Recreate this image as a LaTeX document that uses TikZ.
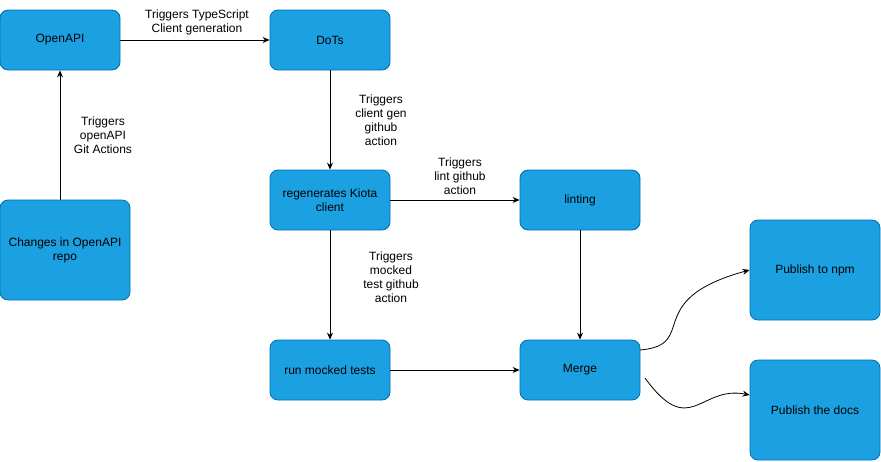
\documentclass[tikz,border=0pt]{standalone}
\usepackage{fontspec}
\setmainfont{Liberation Sans}
\usetikzlibrary{arrows.meta}
\definecolor{boxfill}{HTML}{1BA1E2}
\definecolor{boxline}{HTML}{006EAF}
\begin{document}
\begin{tikzpicture}[x=1pt,y=-1pt,
  box/.style={draw=boxline,fill=boxfill,rounded corners=8pt,line width=0.8pt,align=center,font=\fontsize{12}{14}\selectfont},
  lbl/.style={align=center,font=\fontsize{12}{14}\selectfont},
  arr/.style={-{Stealth[length=7pt,width=6pt]},line width=0.8pt}]
\useasboundingbox (0,0) rectangle (881,461);
\node[box,minimum width=120pt,minimum height=60pt] (oa) at (60,40) {OpenAPI};
\node[box,minimum width=120pt,minimum height=60pt] (dots) at (330,40) {DoTs};
\node[box,minimum width=130pt,minimum height=100pt] (ch) at (65,250) {Changes in OpenAPI\\repo};
\node[box,minimum width=120pt,minimum height=60pt] (kio) at (330,200) {regenerates Kiota\\client};
\node[box,minimum width=120pt,minimum height=60pt] (lint) at (580,200) {linting};
\node[box,minimum width=120pt,minimum height=60pt] (mock) at (330,370) {run mocked tests};
\node[box,minimum width=120pt,minimum height=60pt] (mer) at (580,370) {Merge};
\node[box,minimum width=130pt,minimum height=100pt] (npm) at (815,270) {Publish to npm};
\node[box,minimum width=130pt,minimum height=100pt] (docs) at (815,410) {Publish the docs};
\draw[arr] (ch.north -| 60,0) -- (oa.south);
\node[lbl] (l1) at (103,135) {Triggers\\openAPI\\Git Actions};
\draw[arr] (oa) -- (dots);
\node[lbl] (l2) at (197,22) {Triggers TypeScript\\Client generation};
\draw[arr] (dots) -- (kio);
\node[lbl] (l3) at (381,120) {Triggers\\client gen\\github\\action};
\draw[arr] (kio) -- (lint);
\node[lbl] (l4) at (460,176) {Triggers\\lint github\\action};
\draw[arr] (kio) -- (mock);
\node[lbl] (l5) at (391,277) {Triggers\\mocked\\test github\\action};
\draw[arr] (lint) -- (mer);
\draw[arr] (mock) -- (mer);
\coordinate (m1) at (640,350);
\coordinate (m2) at (645,378);
\draw[arr] (m1) .. controls (700,345) and (640,300) .. (npm.west |- 0,270);
\draw[arr] (m2) .. controls (690,440) and (700,385) .. (docs.west |- 0,395);
\end{tikzpicture}
\end{document}
